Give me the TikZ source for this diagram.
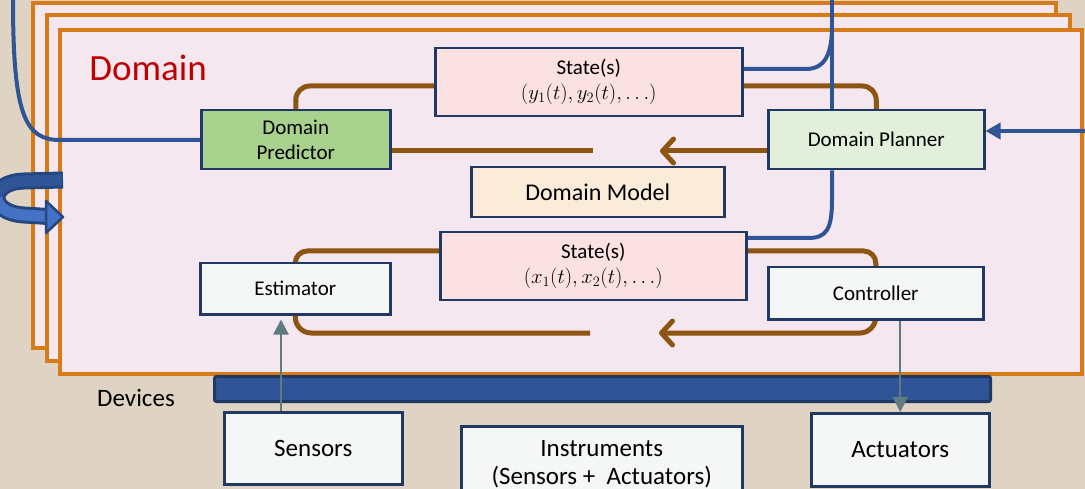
\documentclass[tikz,border=0pt]{standalone}
\usepackage[no-math]{fontspec}
\setmainfont{Carlito}
\usetikzlibrary{arrows.meta}
\definecolor{bgC}{HTML}{DFD3C3}
\definecolor{frameFill}{HTML}{F5E7F0}
\definecolor{frameC}{HTML}{D67B17}
\definecolor{brownC}{HTML}{8D5512}
\definecolor{navyC}{HTML}{203864}
\definecolor{blueC}{HTML}{2F5597}
\definecolor{blueL}{HTML}{4472C4}
\definecolor{blueD}{HTML}{24477F}
\definecolor{grayC}{HTML}{5F7A80}
\definecolor{greenC}{HTML}{A9D18E}
\definecolor{lgreenC}{HTML}{E2EFDA}
\definecolor{stateC}{HTML}{FBE1E1}
\definecolor{modelC}{HTML}{FBEBD9}
\definecolor{whiteC}{HTML}{F5F7F7}
\definecolor{redC}{HTML}{C00000}
\begin{document}
\begin{tikzpicture}[x=1pt,y=-1pt,
  framebox/.style={draw=frameC, fill=frameFill, line width=4.5pt},
  box/.style={draw=navyC, line width=2.5pt, anchor=north west, inner sep=0pt,
    align=center, font=\fontsize{21}{25}\selectfont},
  bigbox/.style={box, fill=whiteC, font=\fontsize{25}{28}\selectfont},
  brownline/.style={draw=brownC, line width=5pt},
  barb/.style={-{Straight Barb[length=11pt,width=24pt,round]}},
  blueline/.style={draw=blueC, line width=4pt},
  grayarrow/.style={draw=grayC, line width=2.2pt, -{Triangle[length=15pt,width=15pt]}}
]
\useasboundingbox (0,0) rectangle (1085,489);
\clip (0,0) rectangle (1085,489);
\fill[bgC] (0,0) rectangle (1085,489);

% stacked frames
\draw[framebox] (33,3) rectangle (1056,348);
\draw[framebox] (47,15) rectangle (1070,361);
\draw[framebox] (60,30) rectangle (1082,374);

% coordinates
\coordinate (mid) at (0,151);
\coordinate (mx1) at (593,151);
\coordinate (mx2) at (660,151);
\coordinate (lx1) at (590,333);
\coordinate (lx2) at (659,333);
\coordinate (topc) at (832,0);
\coordinate (bj) at (832,26);
\coordinate (b1) at (806,69);
\coordinate (b2) at (808,238);
\coordinate (lt) at (13,0);
\coordinate (lc) at (60,140);
\coordinate (re) at (1086,131);
\coordinate (ga) at (281,0);

% nodes (placed first for anchors; redrawn later on top)
\path node[box, fill=greenC, minimum width=189pt, minimum height=59pt] (pred) at (200,109) {Domain\\Predictor};
\path node[box, fill=stateC, minimum width=307pt, minimum height=68pt] (sy) at (434,47) {State(s)\\$(y_1(t),y_2(t),\ldots)$};
\path node[box, fill=lgreenC, minimum width=216pt, minimum height=59pt] (planner) at (767,109) {Domain Planner};
\path node[box, fill=modelC, minimum width=253pt, minimum height=50pt, font=\fontsize{24}{28}\selectfont] (model) at (470,166) {Domain Model};
\path node[box, fill=stateC, minimum width=306pt, minimum height=68pt] (sx) at (439,231) {State(s)\\$(x_1(t),x_2(t),\ldots)$};
\path node[box, fill=whiteC, minimum width=190pt, minimum height=51pt] (est) at (199,262) {Estimator};
\path node[box, fill=whiteC, minimum width=215pt, minimum height=52pt] (ctrl) at (767,266) {Controller};

% brown loops
\draw[brownline, rounded corners=14pt] (pred.north) -- ++(0,-23) -| (planner.north);
\draw[brownline] (pred.east |- mid) -- (mx1);
\draw[brownline, barb] (planner.west |- mid) -- (mx2);
\draw[brownline, rounded corners=12pt] (est.north) -- ++(0,-11) -| (ctrl.north);
\draw[brownline, rounded corners=16pt] (est.south) |- (lx1);
\draw[brownline, barb, rounded corners=16pt] (ctrl.south) |- (lx2);

% blue lines
\draw[blueline] (topc) -- (planner.north -| topc);
\draw[blueline] (sy.east |- b1) -- (b1) .. controls (826,69) and (832,52) .. (bj);
\draw[blueline] (planner.south -| topc) -- (832,200) .. controls (832,230) and (826,238) .. (b2) -- (sx.east |- b2);
\draw[blueline] (lt) .. controls (13,115) and (25,140) .. (lc) -- (pred.west |- lc);
\draw[blueline, -{Triangle[length=15pt,width=16pt]}] (re) -- (planner.east |- re);

% boxes on top
\node[box, fill=greenC, minimum width=189pt, minimum height=59pt] at (200,109) {Domain\\Predictor};
\node[box, fill=stateC, minimum width=307pt, minimum height=68pt] at (434,47) {State(s)\\$(y_1(t),y_2(t),\ldots)$};
\node[box, fill=lgreenC, minimum width=216pt, minimum height=59pt] at (767,109) {Domain Planner};
\node[box, fill=modelC, minimum width=253pt, minimum height=50pt, font=\fontsize{24}{28}\selectfont] at (470,166) {Domain Model};
\node[box, fill=stateC, minimum width=306pt, minimum height=68pt] at (439,231) {State(s)\\$(x_1(t),x_2(t),\ldots)$};
\node[box, fill=whiteC, minimum width=190pt, minimum height=51pt] at (199,262) {Estimator};
\node[box, fill=whiteC, minimum width=215pt, minimum height=52pt] at (767,266) {Controller};

% devices bar
\node[draw=navyC, fill=blueC, line width=3pt, rounded corners=2pt, anchor=north west,
  minimum width=776pt, minimum height=25pt, inner sep=0pt] (dev) at (213,375) {};
\node[font=\fontsize{25}{28}\selectfont] (devlbl) at (136,398) {Devices};

% bottom boxes
\node[bigbox, minimum width=178pt, minimum height=72pt] (sens) at (223,411) {Sensors};
\node[bigbox, minimum width=281pt, minimum height=76pt] (inst) at (460,425) {Instruments\\(Sensors +\ \ Actuators)};
\node[bigbox, minimum width=178pt, minimum height=73pt] (act) at (810,412) {Actuators};

% gray arrows
\draw[grayarrow, shorten >=4pt] (sens.north -| ga) -- (est.south -| ga);
\draw[grayarrow] (ctrl.south -| act.north) -- (act.north);

% curved arrow at left
\draw[blueD, line width=17pt] (63,180) -- (24,181) .. controls (-12,182) and (-12,213) .. (24,215) -- (48,216.5);
\draw[blueC, line width=11pt] (62,180) -- (24,181) .. controls (6,181.5) and (-3,189.5) .. (-3,197.6);
\draw[blueL, line width=11pt] (-3,197.6) .. controls (-3,205.75) and (6,214) .. (24,215) -- (48,216.5);
\filldraw[fill=blueL, draw=blueD, line width=2.5pt, line join=round] (46,201) -- (63,217) -- (46,233) -- cycle;

% title
\node[text=redC, font=\fontsize{37}{40}\selectfont] (title) at (148,68) {Domain};
\end{tikzpicture}
\end{document}
